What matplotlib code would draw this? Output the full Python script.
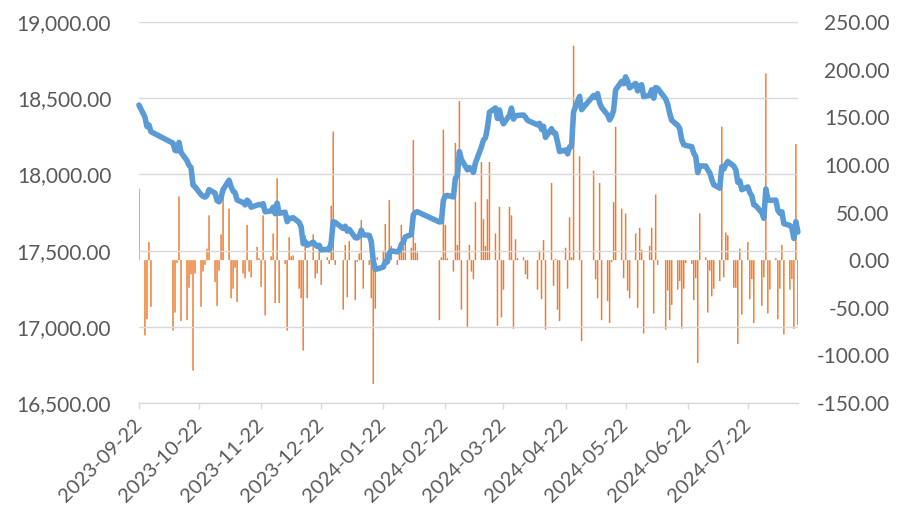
import numpy as np
import pandas as pd
import matplotlib
matplotlib.use('Agg')
import matplotlib.pyplot as plt
from matplotlib.ticker import FuncFormatter

plt.rcParams['font.family'] = ['Lato', 'DejaVu Sans']

# trading calendar: weekdays minus exchange holidays
holidays = ['2023-09-29', '2023-10-02', '2023-10-03', '2023-10-04', '2023-10-05',
            '2023-10-06', '2024-01-01', '2024-02-09', '2024-02-12', '2024-02-13',
            '2024-02-14', '2024-02-15', '2024-02-16', '2024-04-04', '2024-04-05',
            '2024-05-01', '2024-05-02', '2024-05-03', '2024-06-10']
trade_dates = pd.bdate_range('2023-09-22', '2024-08-16')
trade_dates = trade_dates[~trade_dates.isin(pd.to_datetime(holidays))]

# index level (left axis)
index_level = [
    18455, 18376, 18314, 18325, 18280,                                    # 2023-09
    18205, 18158, 18155, 18210, 18145, 18090, 18060, 18045, 17930, 17918,
    17868, 17856, 17851, 17863, 17900, 17877, 17829,                      # 2023-10
    17820, 17848, 17900, 17962, 17920, 17890, 17880, 17832, 17815, 17800,
    17831, 17818, 17785, 17798, 17803, 17800, 17808, 17755, 17760, 17785,
    17742, 17812,                                                         # 2023-11
    17745, 17752, 17690, 17712, 17712, 17716, 17685, 17655, 17545, 17560,
    17535, 17555, 17540, 17528, 17535, 17505, 17508, 17505, 17555, 17690,
    17685,                                                                # 2023-12
    17645, 17660, 17628, 17640, 17585, 17583, 17595, 17634, 17604, 17600,
    17560, 17432, 17378, 17380, 17392, 17430, 17425, 17485, 17498, 17492,
    17500, 17540,                                                         # 2024-01
    17555, 17590, 17605, 17735, 17750, 17755, 17688, 17690, 17830, 17860,
    17862, 17852, 17975, 17992, 18150,                                    # 2024-02
    18098, 18030, 18045, 18033, 18013, 18075, 18180, 18225, 18240, 18305,
    18408, 18436, 18367, 18423, 18363, 18332, 18388, 18435, 18363, 18385,
    18387,                                                                # 2024-03
    18390, 18375, 18355, 18325, 18335, 18295, 18316, 18243, 18300, 18272,
    18270, 18212, 18150, 18160, 18135, 18180, 18185, 18410, 18512, 18425, # 2024-04
    18518, 18505, 18530, 18470, 18440, 18390, 18358, 18380, 18420, 18555,
    18610, 18595, 18640, 18610, 18568, 18597, 18548, 18580, 18588, 18510, # 2024-05
    18520, 18555, 18500, 18570, 18565, 18495, 18460, 18400, 18355, 18322,
    18300, 18228, 18195, 18190, 18182, 18140, 18118, 18012, 18055,        # 2024-06
    18055, 18030, 18010, 17968, 17932, 17910, 18050, 18035, 18065, 18085,
    18055, 18030, 17948, 17958, 17900, 17918, 17880, 17860, 17800, 17795,
    17748, 17712, 17905,                                                  # 2024-07
    17835, 17830, 17831, 17765, 17745, 17755, 17677, 17665, 17650, 17580,
    17690, 17622,                                                         # 2024-08
]

# daily change (right axis)
daily_change = [
    75, -79, -62, 19, -49,
    -74, -55, -3, 67, -64, -63, -29, -15, -116, -14, -49, -12, -5, 12, 47, -23, -48,
    -11, 27, 70, 54, -40, -30, -8, -44, -14, -19, 37, -12, -18, 14, 2, -28, 47, -58,
    4, 28, -45, 86,
    -45, -4, -74, 24, 4, 5, -30, -40, -95, 26, -40, 27, -19, -14, 11, -26, 3, -4,
    57, 135, -5,
    -52, 16, -39, 20, -42, -2, 7, 42, -30, -5, -40, -130, -51, 3, 10, 38, -3, 63,
    15, -5, 7, 37,
    14, 26, 13, 126, 18, 8, -63, 3, 137, 37, 2, -12, 123, 16, 167,
    -52, -70, 16, -12, -20, 61, 103, 43, 15, 64, 103, 28, -69, 56, -60, -31, 56, 47,
    -72, 22, 2,
    3, -15, -20, -31, 10, -41, 21, -73, 81, -27, 1, -52, -64, 13, -30, 45, 3, 225,
    109, -85,
    94, -20, -40, 81, -63, -43, -66, -2, 61, 140, 54, -19, 49, -32, -40, 28, -50, 34,
    11, -77,
    15, 34, -56, 69, -5, -73, -32, -63, -47, -31, -22, -72, -30, -3, -4, -42, -19,
    -108, 49,
    3, -55, -11, -38, -30, -22, 140, -18, 29, 26, -29, -29, -88, 12, -57, 19, -41,
    -20, -66, 0, -48, -18, 196,
    -56, -31, 2, -62, -30, 16, -78, -31, -20, -72, 122, -68,
]

tick_dates = [pd.Timestamp('2023-09-22') + pd.DateOffset(months=i) for i in range(11)]

fig = plt.figure(figsize=(8.97, 5.13), dpi=100)
ax = fig.add_axes([0.1549, 0.2144, 0.7346, 0.7427])
ax2 = ax.twinx()

ax2.bar(trade_dates, daily_change, width=0.75, color='#ED7D31',
        linewidth=0, snap=False)
ax.plot(trade_dates, index_level, color='#5B9BD5', lw=4.0,
        solid_joinstyle='round', solid_capstyle='round', clip_on=False)

# keep the line above the bars
ax.set_zorder(ax2.get_zorder() + 1)
ax.patch.set_visible(False)

ax.set_xlim(pd.Timestamp('2023-09-22'), pd.Timestamp('2024-08-16'))
ax.set_ylim(16500, 19000)
ax2.set_ylim(-150, 250)
ax.set_yticks(np.arange(16500, 19001, 500))
ax2.set_yticks(np.arange(-150, 251, 50))

fmt = FuncFormatter(lambda v, p: '{:,.2f}'.format(v))
ax.yaxis.set_major_formatter(fmt)
ax2.yaxis.set_major_formatter(fmt)

ax.set_xticks(tick_dates)
ax.set_xticklabels([d.strftime('%Y-%m-%d') for d in tick_dates],
                   rotation=45, ha='right', va='center', rotation_mode='anchor')

ax.grid(axis='y', color='#D9D9D9', lw=1)
for a in (ax, ax2):
    for s in ('top', 'left', 'right'):
        a.spines[s].set_visible(False)
ax2.spines['bottom'].set_visible(False)
ax.spines['bottom'].set_color('#D9D9D9')
ax.spines['bottom'].set_linewidth(1)

ax.tick_params(axis='x', length=4, width=1, color='#D9D9D9',
               labelcolor='#595959', labelsize=14.5, pad=10)
ax.tick_params(axis='y', length=0, labelcolor='#595959', labelsize=15, pad=20)
ax2.tick_params(axis='y', length=0, labelcolor='#595959', labelsize=15, pad=66)
for lab in ax2.get_yticklabels():
    lab.set_horizontalalignment('right')

fig.savefig('out.png', dpi=100)
